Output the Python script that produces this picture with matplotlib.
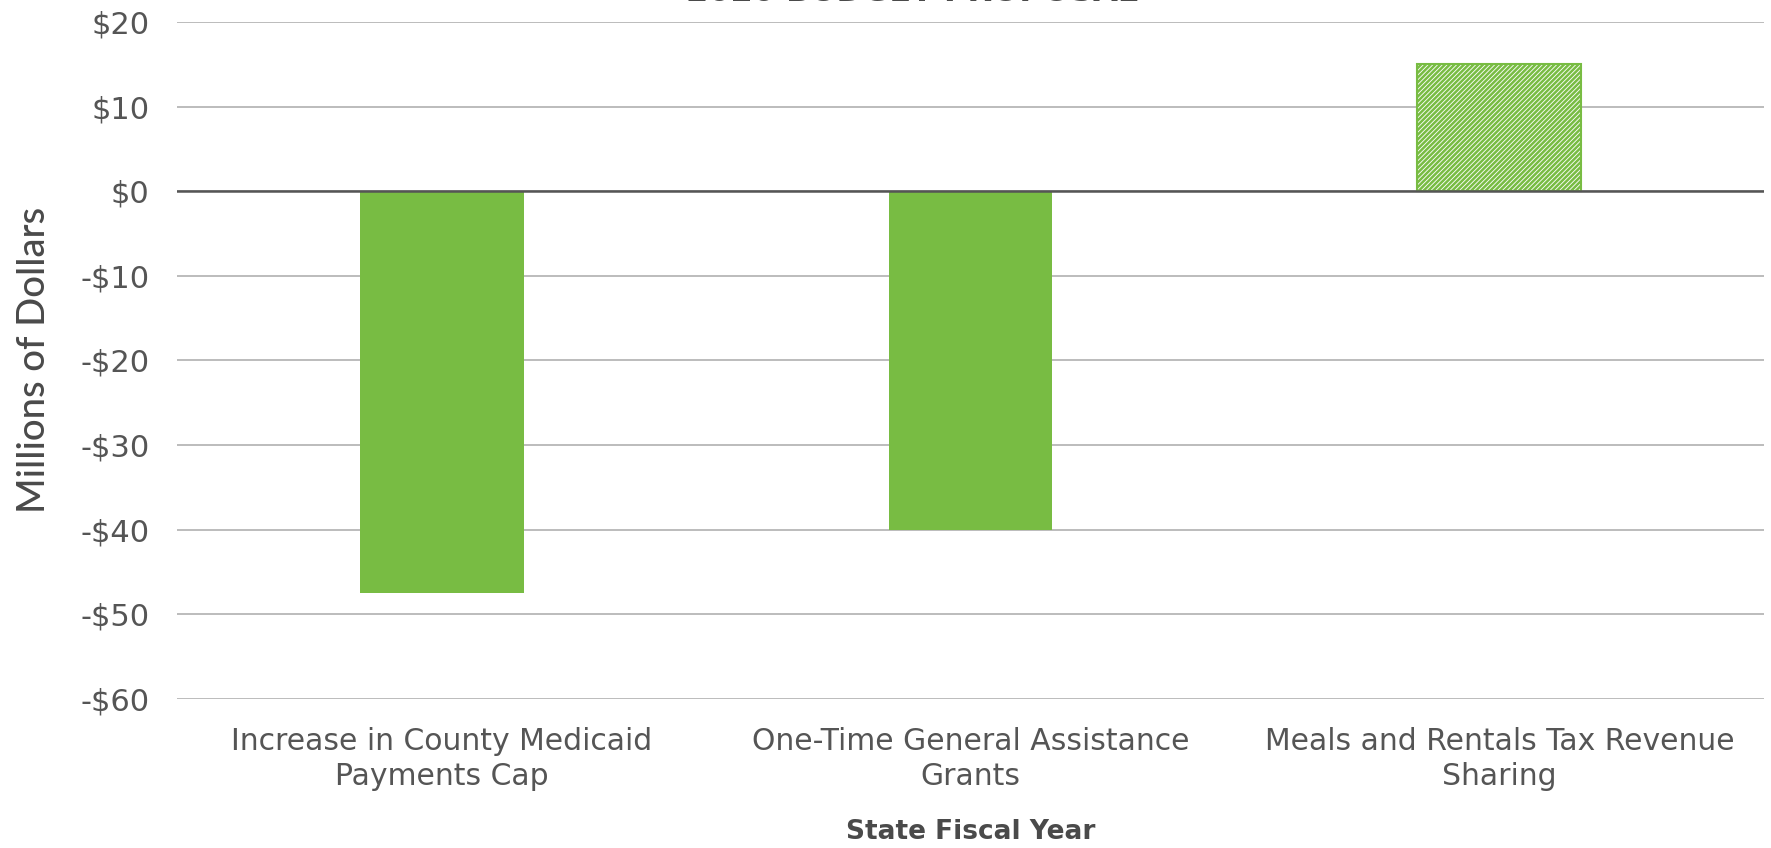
import numpy as np
import matplotlib.pyplot as plt

plt.rcParams['font.family'] = ['DejaVu Sans']

# data
categories = ['Increase in County Medicaid\nPayments Cap',
              'One-Time General Assistance\nGrants',
              'Meals and Rentals Tax Revenue\nSharing']
values = [-47.5, -40, 15]
hatched = [False, False, True]
yticks = [20, 10, 0, -10, -20, -30, -40, -50, -60]

green = '#78bc43'
gray = '#555555'

fig = plt.figure(figsize=(17.71, 8.48), dpi=100)
ax = fig.add_axes([0.1, 0.176, 0.896, 0.798])

x = np.arange(len(categories))
for i in range(len(categories)):
    if hatched[i]:
        plt.rcParams['hatch.color'] = green
        plt.rcParams['hatch.linewidth'] = 1.8
        ax.bar(x[i], values[i], width=0.31, color='white', edgecolor=green,
               hatch='///////', linewidth=1.5, zorder=3)
    else:
        ax.bar(x[i], values[i], width=0.31, color=green, zorder=3)

ax.set_xlim(-0.5, 2.5)
ax.set_ylim(-60, 20)
ax.set_yticks(yticks)
ax.set_yticklabels(['$%d' % v if v >= 0 else '-$%d' % -v for v in yticks], fontsize=22)
ax.set_xticks(x)
ax.set_xticklabels(categories, linespacing=1.3, fontsize=21.5)

ax.yaxis.grid(True, color='#b0b0b0', linewidth=1.2, zorder=0)
ax.axhline(0, color='#555555', linewidth=1.8, zorder=4)
for s in ax.spines.values():
    s.set_visible(False)
ax.tick_params(axis='both', length=0, colors=gray)
ax.tick_params(axis='y', pad=20)
ax.tick_params(axis='x', pad=20)

ax.set_ylabel('Millions of Dollars', fontsize=27.5, color='#4a4a4a', labelpad=20,
              family='Lato', fontweight='medium')
ax.set_xlabel('State Fiscal Year', fontsize=19, color='#4a4a4a', fontweight='bold', labelpad=20)

fig.text(0.515, 0.9985, '2020 BUDGET PROPOSAL', ha='center', va='baseline',
         fontsize=23, fontweight='bold', color='#4a4a4a')

fig.savefig('out.png', dpi=100)
